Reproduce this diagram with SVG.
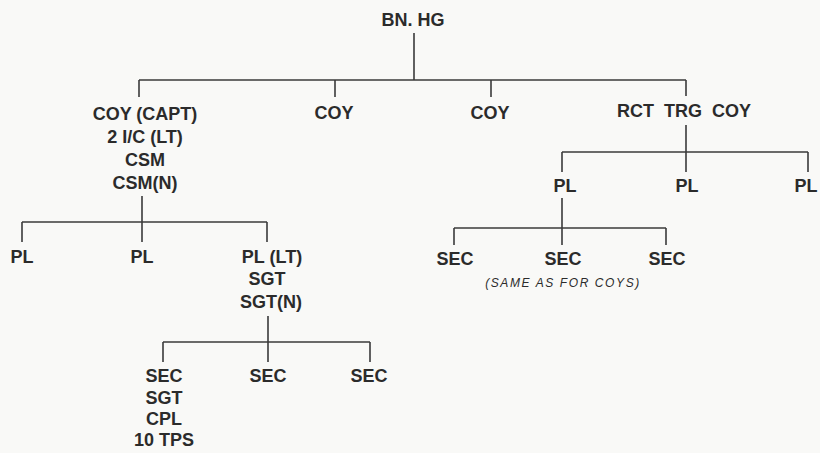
<svg xmlns="http://www.w3.org/2000/svg" width="820" height="453" viewBox="0 0 820 453">
<style>
text{font-family:"Liberation Sans",Arial,sans-serif;font-size:18px;font-weight:bold;fill:#2b2b2b;text-anchor:middle}
.note{font-size:12px;font-style:italic;font-weight:normal;letter-spacing:1.6px}
.c line{stroke:#3a3a3a;stroke-width:1.6;fill:none}
</style>
<rect width="820" height="453" fill="#f9f9f7"/>
<g class="c" id="connectors">
<line x1="414" y1="33" x2="414" y2="80"/>
<line x1="139" y1="80" x2="686" y2="80"/>
<line x1="139" y1="80" x2="139" y2="97"/>
<line x1="335" y1="80" x2="335" y2="97"/>
<line x1="491" y1="80" x2="491" y2="97"/>
<line x1="686" y1="80" x2="686" y2="96"/>
<line x1="142" y1="196" x2="142" y2="242"/>
<line x1="22" y1="222" x2="267" y2="222"/>
<line x1="22" y1="222" x2="22" y2="242"/>
<line x1="267" y1="222" x2="267" y2="242"/>
<line x1="268" y1="316" x2="268" y2="362"/>
<line x1="163" y1="342" x2="370" y2="342"/>
<line x1="163" y1="342" x2="163" y2="362"/>
<line x1="370" y1="342" x2="370" y2="362"/>
<line x1="686" y1="125" x2="686" y2="172"/>
<line x1="562" y1="152" x2="808" y2="152"/>
<line x1="562" y1="152" x2="562" y2="172"/>
<line x1="808" y1="152" x2="808" y2="172"/>
<line x1="562" y1="198" x2="562" y2="245"/>
<line x1="454" y1="228" x2="666" y2="228"/>
<line x1="454" y1="228" x2="454" y2="245"/>
<line x1="666" y1="228" x2="666" y2="245"/>
</g>
<g id="bnhq"><text x="413" y="26">BN. HG</text></g>
<g id="coy1"><text x="145" y="120">COY (CAPT)</text><text x="145" y="143">2 I/C (LT)</text><text x="145" y="166">CSM</text><text x="145" y="189">CSM(N)</text></g>
<g id="coy2"><text x="334" y="119">COY</text></g>
<g id="coy3"><text x="490" y="119">COY</text></g>
<g id="rct"><text x="684" y="117" word-spacing="5">RCT TRG COY</text></g>
<g id="pl1"><text x="22" y="263">PL</text></g>
<g id="pl2"><text x="142" y="263">PL</text></g>
<g id="pl3"><text x="272" y="263">PL (LT)</text><text x="267" y="285">SGT</text><text x="271" y="308">SGT(N)</text></g>
<g id="sec1"><text x="164" y="382">SEC</text><text x="164" y="404">SGT</text><text x="164" y="425">CPL</text><text x="164" y="446">10 TPS</text></g>
<g id="sec2"><text x="268" y="382">SEC</text></g>
<g id="sec3"><text x="369" y="382">SEC</text></g>
<g id="rpl1"><text x="565" y="192">PL</text></g>
<g id="rpl2"><text x="687" y="192">PL</text></g>
<g id="rpl3"><text x="806" y="192">PL</text></g>
<g id="rsec1"><text x="455" y="265">SEC</text></g>
<g id="rsec2"><text x="563" y="265">SEC</text></g>
<g id="rsec3"><text x="667" y="265">SEC</text></g>
<g id="note"><text class="note" x="563" y="287">(SAME AS FOR COYS)</text></g>
</svg>
